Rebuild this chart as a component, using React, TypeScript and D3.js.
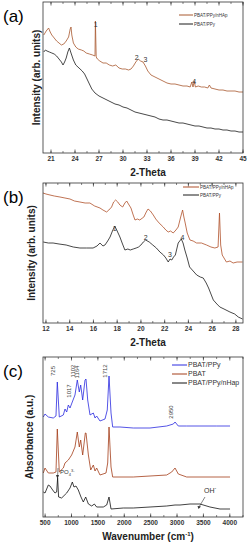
import React from "react";
import * as d3 from "d3";

type Pt = [number, number];

// (a) XRD 2-Theta 20-45
const aNhap: Pt[] = [[20.1,118],[20.4,122],[20.7,125],[20.9,121],[21.1,118],[21.4,115],[21.7,112],[22.0,110],[22.3,108],[22.6,109],[22.9,112],[23.2,116],[23.4,124],[23.5,126],[23.6,118],[23.8,110],[24.1,106],[24.4,104],[24.8,103],[25.1,102],[25.4,100],[25.8,99],[26.2,98],[26.5,97],[26.55,132],[26.65,96],[26.8,94],[27.1,92],[27.5,90],[27.9,90],[28.3,88],[28.7,87],[29.1,88],[29.5,85],[29.9,84],[30.3,84],[30.7,83],[31.0,84],[31.3,87],[31.6,91],[31.9,94],[32.2,92],[32.5,91],[32.8,87],[33.1,82],[33.5,78],[34.0,76],[34.5,74],[35.0,72],[35.5,70],[36.0,69],[36.5,69],[37.0,68],[37.5,67],[38.0,67],[38.4,66],[38.6,71],[38.75,66],[38.9,72],[39.05,66],[39.4,67],[39.8,66],[40.2,66],[40.6,65],[40.8,68],[41.0,65],[41.5,64],[42.0,63],[42.5,63],[43.0,62],[43.5,62],[44.0,62],[44.5,61],[45.0,61]];
const aPpy: Pt[] = [[20.1,101],[20.3,103],[20.5,102],[20.8,101],[21.1,100],[21.4,99],[21.7,97],[22.0,94],[22.3,91],[22.5,88],[22.7,91],[22.9,95],[23.1,101],[23.3,105],[23.5,100],[23.8,93],[24.1,88],[24.5,85],[24.9,82],[25.2,79],[25.5,74],[25.8,69],[26.1,64],[26.5,60],[27.0,57],[27.5,55],[28.0,53],[28.5,51],[29.0,49],[29.5,48],[30.0,46],[30.5,45],[31.0,43],[31.5,41],[32.0,40],[32.5,39],[33.0,38],[33.5,37],[34.0,36],[34.5,34],[35.0,33],[35.5,33],[36.0,32],[36.5,31],[37.0,30],[37.5,30],[38.0,29],[38.5,28],[39.0,27],[39.5,27],[40.0,26],[40.5,25],[41.0,25],[41.5,24],[42.0,24],[42.5,23],[43.0,23],[43.5,22],[44.0,22],[44.5,21],[45.0,21]];
const aTicks = [21, 24, 27, 30, 33, 36, 39, 42, 45];
const aPeaks: [string, number, number][] = [["1", 26.6, 126], ["2", 31.7, 93], ["3", 32.8, 91], ["4", 38.9, 69]];

// (b) XRD 2-Theta 12-28
const bNhap: Pt[] = [[11.75,130],[12.0,129],[12.34,128],[12.7,127],[13.18,126],[13.6,125],[14.02,124],[14.4,122],[14.86,121],[15.3,120],[15.7,120],[16.1,117],[16.55,115],[16.8,113],[17.11,111],[17.3,113],[17.53,116],[17.7,121],[17.87,123],[18.05,121],[18.23,118],[18.46,116],[18.65,120],[18.8,122],[18.95,119],[19.16,115],[19.35,108],[19.5,103],[19.7,104],[19.9,103],[20.25,106],[20.45,111],[20.6,114],[20.8,112],[21.04,108],[21.25,104],[21.46,101],[21.7,98],[21.88,96],[22.1,93],[22.3,91],[22.5,92],[22.72,90],[22.95,93],[23.14,96],[23.35,106],[23.51,113],[23.62,106],[23.73,100],[23.9,90],[24.13,83],[24.4,82],[24.69,80],[25.1,80],[25.53,78],[25.9,76],[26.23,75],[26.5,76],[26.62,110],[26.72,78],[26.85,68],[27.2,61],[27.5,62],[27.77,60],[28.1,61],[28.56,61]];
const bPpy: Pt[] = [[11.77,81],[12.2,80],[12.6,80],[13.1,79],[13.7,78],[14.3,76],[14.86,75],[15.4,75],[15.97,75],[16.3,77],[16.55,80],[16.8,77],[16.97,78],[17.2,82],[17.4,86],[17.6,92],[17.8,97],[18.0,92],[18.23,86],[18.45,79],[18.65,73],[18.9,74],[19.1,73],[19.35,74],[19.6,75],[19.8,76],[20.0,78],[20.2,81],[20.4,83],[20.7,81],[21.0,78],[21.3,75],[21.6,71],[21.9,68],[22.1,65],[22.3,61],[22.45,64],[22.6,63],[22.75,66],[22.9,68],[23.14,80],[23.4,84],[23.55,80],[23.7,73],[23.9,65],[24.1,56],[24.4,52],[24.7,48],[25.0,46],[25.25,45],[25.5,40],[25.7,35],[25.9,29],[26.1,23],[26.4,19],[26.65,16],[27.0,14],[27.5,11],[27.9,9],[28.2,6],[28.56,4]];
const bTicks = [12, 14, 16, 18, 20, 22, 24, 26, 28];
const bPeaks: [string, number, number][] = [["1", 17.8, 92], ["2", 20.4, 83], ["3", 22.45, 66], ["4", 23.5, 83]];

// (c) FTIR absorbance
const cPpy: Pt[] = [[466,100],[498,103],[561,100],[655,99],[706,101],[731,135],[769,100],[845,102],[877,108],[909,105],[940,112],[972,109],[1022,116],[1066,122],[1110,137],[1148,125],[1174,132],[1212,117],[1256,137],[1275,138],[1307,117],[1351,102],[1414,104],[1446,99],[1477,101],[1540,96],[1635,98],[1678,107],[1711,141],[1749,104],[1780,90],[1919,90],[2171,89],[2488,89],[2804,91],[2930,93],[2962,95],[3024,91],[3183,91],[3435,91],[3751,91],[4004,91]];
const cPbat: Pt[] = [[466,44],[498,49],[561,44],[655,44],[706,45],[731,88],[769,45],[845,49],[877,54],[940,57],[1003,62],[1066,70],[1110,85],[1148,70],[1174,77],[1212,62],[1262,84],[1275,84],[1320,62],[1364,47],[1414,52],[1446,46],[1477,49],[1540,42],[1654,44],[1686,54],[1711,90],[1749,50],[1780,40],[2171,40],[2804,42],[2899,45],[2962,49],[3024,43],[3183,40],[4004,40]];
const cNhap: Pt[] = [[466,25],[498,24],[561,32],[592,31],[643,27],[687,24],[719,25],[737,39],[756,20],[813,19],[909,24],[972,29],[1016,35],[1047,30],[1085,31],[1129,27],[1180,20],[1224,15],[1269,20],[1320,13],[1383,11],[1433,13],[1477,10],[1603,10],[1667,12],[1711,20],[1749,8],[1982,9],[2171,9],[2488,10],[2804,11],[2962,12],[3056,12],[3246,13],[3435,13],[3624,10],[3814,8],[4004,8]];
const cTicks = [500, 1000, 1500, 2000, 2500, 3000, 3500, 4000];
const cPeaks: [string, number, number][] = [["725", 731, 146], ["1017", 1022, 126], ["1102", 1110, 146], ["1164", 1174, 145], ["1712", 1711, 146], ["2950", 2962, 105]];

const FONT = "Liberation Sans, Arial, sans-serif";

interface PanelProps {
  label: string;
  top: number;
  bottom: number;
  xDomain: [number, number];
  yMax: number;
  ticks: number[];
  minor: number;
  series: { data: Pt[]; color: string }[];
  legend: { name: string; color: string }[];
  legendX: number;
  legendY: number;
  legendGap: number;
  legendSize: number;
  lineLen: number;
  xTitle: React.ReactNode;
  yTitle: string;
  yTitleX: number;
  peaks: [string, number, number][];
  rotatePeaks?: boolean;
}

function Panel(p: PanelProps) {
  const left = 43;
  const right = 243;
  const x = d3.scaleLinear().domain(p.xDomain).range([left, right]);
  const y = d3.scaleLinear().domain([0, p.yMax]).range([p.bottom, p.top]);
  const line = d3.line<Pt>().x((d) => x(d[0])).y((d) => y(d[1]));
  const minorTicks = d3.range(p.ticks[0] - p.minor, p.xDomain[1] + 0.001, p.minor)
    .filter((t) => t >= p.xDomain[0] && t <= p.xDomain[1]);
  return (
    <g>
      <text x={3} y={p.top + 20} fontFamily={FONT} fontSize={17}>{p.label}</text>
      {p.series.map((s, i) => (
        <path key={i} d={line(s.data) || ""} fill="none" stroke={s.color} strokeWidth={0.8} />
      ))}
      <rect x={left} y={p.top} width={right - left} height={p.bottom - p.top} fill="none" stroke="#333" strokeWidth={0.8} />
      {minorTicks.map((t) => (
        <g key={t}>
          <line x1={x(t)} x2={x(t)} y1={p.bottom} y2={p.bottom - 2} stroke="#333" strokeWidth={0.6} />
          <line x1={x(t)} x2={x(t)} y1={p.top} y2={p.top + 2} stroke="#333" strokeWidth={0.6} />
        </g>
      ))}
      {p.ticks.map((t) => (
        <g key={t}>
          <line x1={x(t)} x2={x(t)} y1={p.bottom} y2={p.bottom - 3.5} stroke="#333" strokeWidth={0.7} />
          <line x1={x(t)} x2={x(t)} y1={p.top} y2={p.top + 3.5} stroke="#333" strokeWidth={0.7} />
          <text x={x(t)} y={p.bottom + 8} textAnchor="middle" fontFamily={FONT} fontSize={6.5} fontWeight="bold" fill="#333">{t}</text>
        </g>
      ))}
      <text x={(left + right) / 2 + 5} y={p.bottom + 23} textAnchor="middle" fontFamily={FONT} fontSize={10} fontWeight="bold" fill="#222">{p.xTitle}</text>
      <text transform={`translate(${p.yTitleX},${(p.top + p.bottom) / 2}) rotate(-90)`} textAnchor="middle" fontFamily={FONT} fontSize={10} fontWeight="bold" fill="#222">{p.yTitle}</text>
      {p.legend.map((l, i) => (
        <g key={l.name}>
          <line x1={p.legendX} x2={p.legendX + p.lineLen} y1={p.legendY + i * p.legendGap} y2={p.legendY + i * p.legendGap} stroke={l.color} strokeWidth={1} />
          <text x={p.legendX + p.lineLen + 1} y={p.legendY + i * p.legendGap + p.legendSize * 0.35} fontFamily={FONT} fontSize={p.legendSize} fill="#333">{l.name}</text>
        </g>
      ))}
      {p.peaks.map(([t, px, py]) =>
        p.rotatePeaks ? (
          <text key={t} transform={`translate(${x(px) - 2},${y(py)}) rotate(-90)`} textAnchor="middle" fontFamily={FONT} fontSize={6} fill="#444">{t}</text>
        ) : (
          <text key={t} x={x(px)} y={y(py)} textAnchor="middle" fontFamily={FONT} fontSize={7} fill="#333">{t}</text>
        )
      )}
    </g>
  );
}

export default function App() {
  return (
    <svg width={248} height={550} style={{ position: "absolute", left: 0, top: 0, background: "#fff" }}>
      <Panel label="(a)" top={2} bottom={153} xDomain={[20, 45]} yMax={151} ticks={aTicks} minor={1.5}
        series={[{ data: aNhap, color: "#a8582e" }, { data: aPpy, color: "#1a1a1a" }]}
        legend={[{ name: "PBAT/PPy/nHAp", color: "#a8582e" }, { name: "PBAT/PPy", color: "#1a1a1a" }]}
        legendX={179} legendY={15} legendGap={9} legendSize={4.5} lineLen={14}
        xTitle="2-Theta" yTitle="Intensity (arb. units)" yTitleX={40} peaks={aPeaks} />
      <Panel label="(b)" top={183} bottom={323} xDomain={[11.75, 28.6]} yMax={140} ticks={bTicks} minor={1}
        series={[{ data: bNhap, color: "#b0502a" }, { data: bPpy, color: "#1a1a1a" }]}
        legend={[{ name: "PBAT/PPy/nHAp", color: "#b0502a" }, { name: "PBAT/PPy", color: "#1a1a1a" }]}
        legendX={183} legendY={187} legendGap={8} legendSize={4.5} lineLen={16}
        xTitle="2-Theta" yTitle="Intensity (arb. units)" yTitleX={35} peaks={bPeaks} />
      <Panel label="(c)" top={357} bottom={517} xDomain={[460, 4250]} yMax={160} ticks={cTicks} minor={250}
        series={[{ data: cPpy, color: "#2a2ae0" }, { data: cPbat, color: "#a33c18" }, { data: cNhap, color: "#111" }]}
        legend={[{ name: "PBAT/PPy", color: "#2a2ae0" }, { name: "PBAT", color: "#a33c18" }, { name: "PBAT/PPy/nHap", color: "#111" }]}
        legendX={172} legendY={365} legendGap={9} legendSize={7} lineLen={15}
        xTitle={<>Wavenumber (cm<tspan dy={-4} fontSize={6}>-1</tspan><tspan dy={4}>)</tspan></>}
        yTitle="Absorbance (a.u.)" yTitleX={33} peaks={cPeaks} rotatePeaks />
      <g fontFamily={FONT} fill="#333">
        <line x1={58} y1={468} x2={57.5} y2={478} stroke="#333" strokeWidth={0.6} />
        <path d="M56,475 L57.5,479 L59,475 Z" fill="#333" />
        <text x={60} y={474} fontSize={6}>PO<tspan fontSize={4} dy={1.5}>4</tspan><tspan fontSize={4} dy={-4}>3-</tspan></text>
        <text x={204} y={493} fontSize={7}>OH<tspan fontSize={5} dy={-3}>-</tspan></text>
        <line x1={205} y1={497} x2={199} y2={507} stroke="#333" strokeWidth={0.6} />
        <path d="M197.5,506 L198.5,509 L201,506.5 Z" fill="#333" />
      </g>
    </svg>
  );
}
